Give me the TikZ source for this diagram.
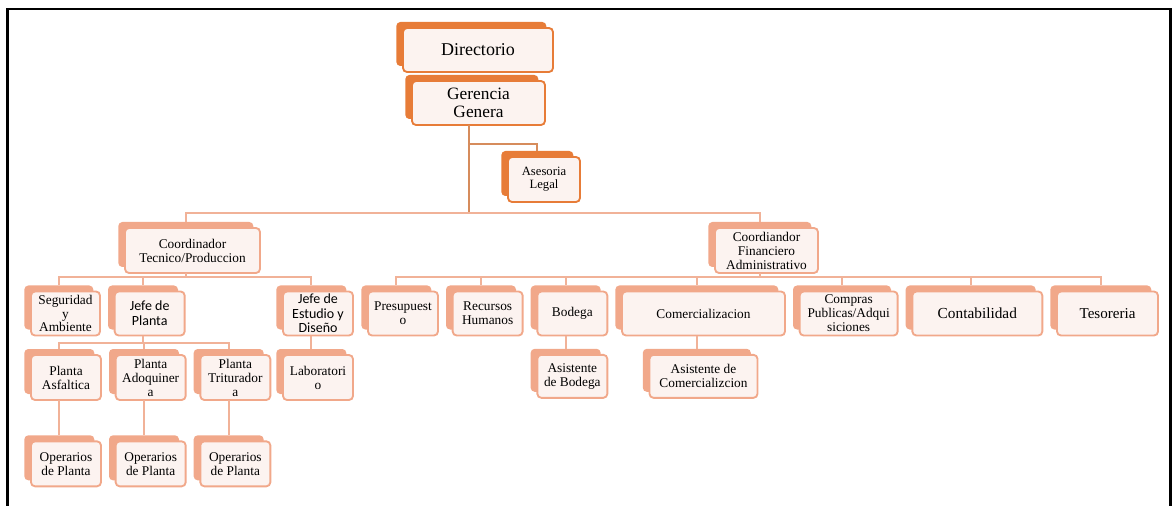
\documentclass[tikz,border=0pt]{standalone}
\usepackage{fontspec}
\setmainfont{Liberation Serif}
\newfontfamily\calibrifont{Carlito}
\usetikzlibrary{positioning}
\usetikzlibrary{shadows}

\definecolor{orgdark}{RGB}{231,124,56}
\definecolor{orgsalmon}{RGB}{241,168,138}
\definecolor{orgline}{RGB}{241,178,152}
\definecolor{orgtop}{RGB}{214,140,92}
\definecolor{boxfill}{RGB}{252,243,240}

\tikzset{
  orgbase/.style={rounded corners=3pt, line width=1.4pt, fill=boxfill, align=center,
    inner sep=1pt, outer sep=0pt, font=\fontsize{10}{10.5}\selectfont},
  topbox/.style={orgbase, draw=orgdark,
    general shadow={fill=orgdark, shadow xshift=-5pt, shadow yshift=4.5pt}},
  unitbox/.style={orgbase, draw=orgsalmon,
    general shadow={fill=orgsalmon, shadow xshift=-5pt, shadow yshift=4.5pt}},
  unitsm/.style={unitbox, minimum width=52.5pt, minimum height=33pt},
  sansfont/.style={font=\calibrifont\fontsize{10.5}{11}\selectfont},
  link/.style={draw=orgline, line width=1.5pt},
  toplink/.style={draw=orgtop, line width=1.5pt},
}

\begin{document}
\begin{tikzpicture}[x=0.75pt, y=-0.75pt, node distance=11pt]
\useasboundingbox (0,0) rectangle (1172,506);
\draw[line width=2.2pt] (7.5,506) -- (7.5,9) -- (1170.5,9) -- (1170.5,506);

% Direction
\node[topbox, minimum width=112.5pt, minimum height=33pt, font=\fontsize{13.5}{14}\selectfont] (dir) at (478,50) {Directorio};
\node[topbox, minimum width=99.75pt, minimum height=33pt, font=\fontsize{13}{13.5}\selectfont] (ger) at (478.5,103) {Gerencia\\Genera};
\node[topbox, minimum width=54pt, minimum height=33.75pt, font=\fontsize{9.5}{10}\selectfont] (ase) at (544,179.5) {Asesoria\\Legal};

% Coordinators
\node[unitbox, minimum width=101.25pt, minimum height=33.75pt] (ct) at (192.5,250.5) {Coordinador\\Tecnico/Produccion};
\node[unitbox, minimum width=77.25pt, minimum height=33.75pt] (cf) at (766.5,250.5) {Coordiandor\\Financiero\\Administrativo};

% Technical branch
\node[unitsm, minimum width=51.75pt, font=\fontsize{10}{9.8}\selectfont] (seg) at (65.5,313.5) {Seguridad\\y\\Ambiente};
\node[unitsm, sansfont, right=of seg] (jp) {Jefe de\\Planta};
\node[unitsm, sansfont] (je) at (318,313.5) {Jefe de\\Estudio y\\Diseño};
\node[unitsm, minimum height=33.75pt] (pa) at (66,377.5) {Planta\\Asfaltica};
\node[unitsm, minimum height=33.75pt, right=of pa] (pad) {Planta\\Adoquiner\\a};
\node[unitsm, minimum height=33.75pt, right=of pad] (ptr) {Planta\\Triturador\\a};
\node[unitsm, minimum height=33.75pt] (lab) at (318,377.5) {Laboratori\\o};
\node[unitsm, minimum height=33.75pt, below=31pt of pa] (op1) {Operarios\\de Planta};
\node[unitsm, minimum height=33.75pt, below=31pt of pad] (op2) {Operarios\\de Planta};
\node[unitsm, minimum height=33.75pt, below=31pt of ptr] (op3) {Operarios\\de Planta};

% Financial branch
\node[unitsm] (pre) at (403,313.5) {Presupuest\\o};
\node[unitsm, right=of pre] (rh) {Recursos\\Humanos};
\node[unitsm, right=of rh] (bod) {Bodega};
\node[unitsm, minimum width=122.25pt, right=of bod] (com) {Comercializacion};
\node[unitsm, minimum width=73.5pt, right=of com] (comp) {Compras\\Publicas/Adqui\\siciones};
\node[unitsm, minimum width=97.5pt, right=of comp, font=\fontsize{11.5}{12}\selectfont] (cont) {Contabilidad};
\node[unitsm, minimum width=75.75pt, right=of cont, font=\fontsize{11.3}{12}\selectfont] (tes) {Tesoreria};
\node[unitsm, minimum height=32.25pt, below=14.5pt of bod] (asb) {Asistente\\de Bodega};
\node[unitsm, minimum width=81pt, minimum height=32.25pt, below=14.5pt of com] (asc) {Asistente de\\Comercializcion};

% Connect the nodes
\draw[toplink] ([xshift=-7pt]ger.south) -- ++(0,88) coordinate (gbus);
\path ([xshift=-7pt]ger.south) ++(0,19) coordinate (gase);
\draw[toplink] (gase) -| ([xshift=-5pt,yshift=4.5pt]ase.north);
\draw[link] ([xshift=-5pt,yshift=4.5pt]ct.north) |- (gbus) -| ([xshift=-5pt,yshift=4.5pt]cf.north);

\draw[link] ([xshift=-5pt]ct.south) -- ++(0,4) coordinate (tbus);
\foreach \c in {seg,jp,je}
  \draw[link] (tbus) -| ([xshift=-5pt,yshift=4.5pt]\c.north);
\draw[link] ([xshift=-5pt]jp.south) -- ++(0,7) coordinate (pbus);
\foreach \c in {pa,pad,ptr}
  \draw[link] (pbus) -| ([xshift=-5pt,yshift=4.5pt]\c.north);
\draw[link] ([xshift=-5pt]cf.south) -- ++(0,4) coordinate (fbus);
\foreach \c in {pre,rh,bod,com,comp,cont,tes}
  \draw[link] (fbus) -| ([xshift=-5pt,yshift=4.5pt]\c.north);
\foreach \a/\b in {pa/op1,pad/op2,ptr/op3,je/lab,bod/asb,com/asc}
  \draw[link] ([xshift=-5pt]\a.south) -- ([xshift=-5pt,yshift=4.5pt]\b.north);
\end{tikzpicture}
\end{document}
